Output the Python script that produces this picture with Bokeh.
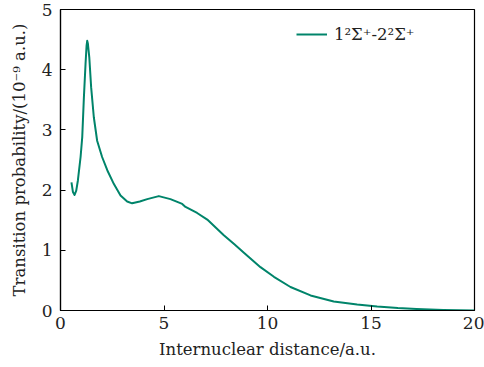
from bokeh.plotting import figure
from bokeh.models import Range1d, FixedTicker, Legend, LegendItem
from bokeh.embed import file_html
from bokeh.resources import INLINE

distance = [0.53, 0.6, 0.68, 0.76, 0.84, 0.97, 1.05, 1.13, 1.21, 1.26,
            1.29, 1.32, 1.39, 1.48, 1.61, 1.77, 2.01, 2.26, 2.58, 2.90,
            3.22, 3.46, 3.83, 4.19, 4.75, 5.31, 5.88, 6.04, 6.60, 7.09,
            7.89, 8.4, 8.86, 9.66, 10.31, 11.11, 12.08, 13.2, 14.33, 15.3,
            16.3, 17.2, 18.5, 20.0]
probability = [2.13, 1.97, 1.92, 1.99, 2.16, 2.55, 2.88, 3.54, 4.10, 4.40,
               4.48, 4.44, 4.21, 3.71, 3.21, 2.82, 2.55, 2.33, 2.10, 1.91,
               1.81, 1.78, 1.81, 1.85, 1.90, 1.85, 1.77, 1.72, 1.62, 1.51,
               1.25, 1.10, 0.96, 0.72, 0.56, 0.39, 0.25, 0.15, 0.10, 0.066,
               0.04, 0.025, 0.01, 0.0]
x_ticks = [0, 5, 10, 15, 20]
y_ticks = [0, 1, 2, 3, 4, 5]
series_label = "1²Σ⁺-2²Σ⁺"

FONT = "DejaVu Serif"
COLOR = "#00846a"

p = figure(width=484, height=367, output_backend="svg", toolbar_location=None,
           x_range=Range1d(0, 20), y_range=Range1d(0, 5),
           min_border_left=60, min_border_right=10, min_border_top=9, min_border_bottom=57)
p.xgrid.visible = False
p.ygrid.visible = False
p.outline_line_color = "black"
p.outline_line_width = 1.2

r = p.line(distance, probability, line_color=COLOR, line_width=2, line_join="round")

for ax in (p.xaxis[0], p.yaxis[0]):
    ax.major_tick_in = 5
    ax.major_tick_out = 0
    ax.minor_tick_in = 0
    ax.minor_tick_out = 0
    ax.major_label_text_font = FONT
    ax.major_label_text_font_size = "17px"
    ax.major_label_text_color = "#222222"
    ax.axis_label_text_font = FONT
    ax.axis_label_text_font_size = "16.5px"
    ax.axis_label_text_font_style = "normal"
    ax.axis_label_text_color = "#222222"
    ax.axis_line_color = "black"
    ax.axis_line_width = 1.2
    ax.major_tick_line_color = "black"

p.xaxis[0].ticker = FixedTicker(ticks=x_ticks)
p.yaxis[0].ticker = FixedTicker(ticks=y_ticks)
p.xaxis[0].axis_label = "Internuclear distance/a.u."
p.yaxis[0].axis_label = "Transition probability/(10⁻⁹ a.u.)"
p.xaxis[0].major_label_standoff = 6
p.yaxis[0].major_label_standoff = 8
p.xaxis[0].axis_label_standoff = 8
p.yaxis[0].axis_label_standoff = 10

legend = Legend(items=[LegendItem(label=series_label, renderers=[r])],
                location=(236, 266), border_line_color=None,
                background_fill_alpha=0, label_text_font=FONT,
                label_text_font_size="16.5px", glyph_width=31, margin=0, padding=0,
                label_standoff=7, label_text_color="#222222")
p.add_layout(legend)

open("out.html", "w").write(file_html(p, INLINE))
